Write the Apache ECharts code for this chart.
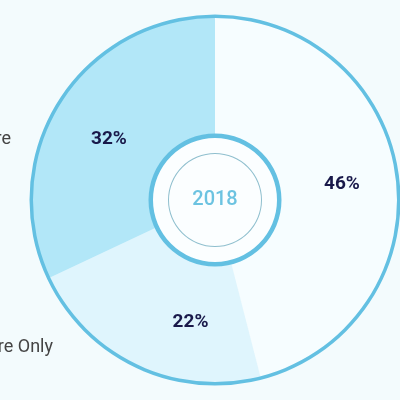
<!DOCTYPE html>
<html>
<head>
<meta charset="utf-8" />
<title></title>
<script src="https://cdn.jsdelivr.net/npm/echarts@6/dist/echarts.min.js"></script>
<style>
html, body { margin: 0; padding: 0; background: #f3fbfd; }
#main { width: 400px; height: 400px; }
</style>
</head>
<body>
<div id="main"></div>
<script type="text/javascript">
/* data */
var categories = ['Hardware + Software', 'Software', 'Software Only'];
var shares = [46, 22, 32];
var sliceNames = ['Hardware + Software', 'Software Only', 'Software'];
var sliceColors = ['#f6fdff', '#dff5fd', '#b2e7f8'];
var yearLabel = '2018';

var chart = echarts.init(document.getElementById('main'));

var center = [215, 200];
var ringColor = '#63c0e2';

var pieData = shares.map(function (v, i) {
    var item = { name: sliceNames[i], value: v, itemStyle: { color: sliceColors[i] } };
    if (i === 1) {
        item.label = { offset: [30, 6] }; /* label sits off-centre in the original */
    }
    if (i === 2) {
        item.label = { offset: [2, 8] };
    }
    return item;
});

var option = {
    backgroundColor: '#f3fbfd',
    animation: false,
    series: [
        {
            /* main donut */
            type: 'pie',
            center: center,
            radius: [66, 184],
            startAngle: 90,
            clockwise: true,
            silent: true,
            itemStyle: { borderWidth: 0 },
            label: {
                show: true,
                position: 'inside',
                formatter: '{c}%',
                color: '#19194a',
                fontFamily: 'Roboto',
                fontWeight: 'bold',
                fontSize: 19
            },
            labelLine: { show: false },
            data: pieData,
            z: 2
        },
        {
            /* outer border */
            type: 'pie',
            center: center,
            radius: [182, 185.5],
            silent: true,
            label: { show: false },
            itemStyle: { color: ringColor },
            data: [1],
            z: 3
        },
        {
            /* hole */
            type: 'pie',
            center: center,
            radius: [0, 64],
            silent: true,
            label: { show: false },
            itemStyle: { color: '#fbfeff' },
            data: [1],
            z: 3
        },
        {
            /* inner border */
            type: 'pie',
            center: center,
            radius: [62, 66.5],
            silent: true,
            label: { show: false },
            itemStyle: { color: ringColor },
            data: [1],
            z: 4
        },
        {
            /* thin circle + year */
            type: 'pie',
            center: center,
            radius: [46, 47],
            silent: true,
            itemStyle: { color: '#8fbfce' },
            label: {
                show: true,
                position: 'center',
                formatter: yearLabel,
                color: '#6cc3e1',
                fontFamily: 'Roboto',
                fontWeight: 500,
                fontSize: 20
            },
            labelLine: { show: false },
            data: [1],
            z: 4
        }
    ],
    graphic: [
        {
            type: 'text',
            style: {
                text: categories[1], x: 11, y: 139,
                align: 'right', verticalAlign: 'middle',
                fill: '#444', font: '18px Roboto'
            }
        },
        {
            type: 'text',
            style: {
                text: categories[2], x: 53, y: 347,
                align: 'right', verticalAlign: 'middle',
                fill: '#444', font: '18px Roboto'
            }
        }
    ]
};

chart.setOption(option);
window.onresize = chart.resize;
</script>
</body>
</html>
